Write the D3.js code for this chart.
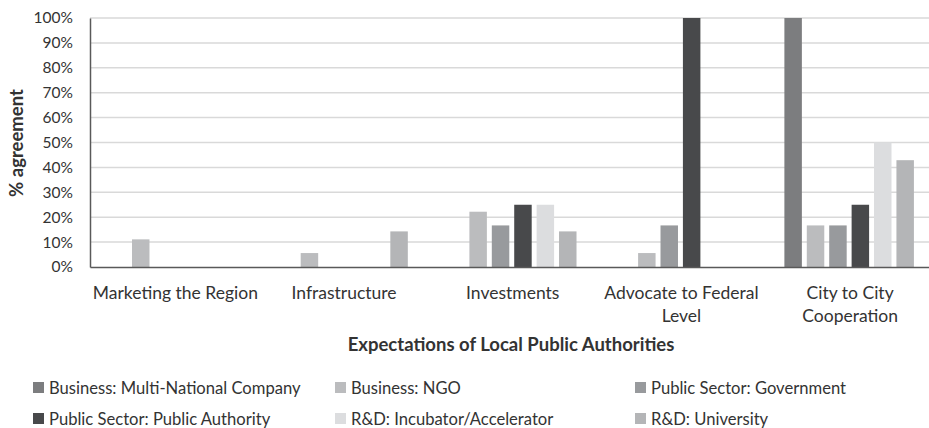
<!DOCTYPE html>
<html><head><meta charset="utf-8">
<script src="https://cdn.jsdelivr.net/npm/d3@7"></script>
<style>
html,body{margin:0;padding:0;background:#fff;}
svg{display:block;font-family:Lato,"Open Sans",sans-serif;}
</style></head>
<body>
<svg id="chart" width="929" height="428"></svg>
<script>
const categories = ["Marketing the Region","Infrastructure","Investments","Advocate to Federal Level","City to City Cooperation"];
const seriesNames = ["Business: Multi-National Company","Business: NGO","Public Sector: Government","Public Sector: Public Authority","R&D: Incubator/Accelerator","R&D: University"];
const seriesColors = ["#7c7d7f","#bbbcbe","#989a9d","#48494b","#dcdddf","#b4b5b7"];
const mnc        = [0, 0, 0, 0, 1.0];
const ngo        = [0.111, 0.056, 0.222, 0.056, 0.167];
const government = [0, 0, 0.167, 0.167, 0.167];
const authority  = [0, 0, 0.25, 1.0, 0.25];
const incubator  = [0, 0, 0.25, 0, 0.5];
const university = [0, 0.143, 0.143, 0, 0.429];
const seriesValues = [mnc, ngo, government, authority, incubator, university];
const yTicks = [0,0.1,0.2,0.3,0.4,0.5,0.6,0.7,0.8,0.9,1.0];
const yTitle = "% agreement";
const xTitle = "Expectations of Local Public Authorities";

const svg = d3.select("#chart");
const m = {left:90, top:18, right:929+4.5, bottom:267};
const textColor = "#333333";

const x0 = d3.scaleBand().domain(categories).range([m.left, m.right]).paddingInner(0).paddingOuter(0);
const groupW = x0.bandwidth()*0.797;
const x1 = d3.scaleBand().domain(seriesNames).range([-groupW/2, groupW/2]).paddingInner(0.22).paddingOuter(0.11);
const y = d3.scaleLinear().domain([0,1]).range([m.bottom, m.top]);

// gridlines
svg.append("g").selectAll("line").data(yTicks.filter(d=>d>0)).join("line")
  .attr("x1", m.left).attr("x2", 929)
  .attr("y1", d=>y(d)).attr("y2", d=>y(d))
  .attr("stroke", "#d9d9d9").attr("stroke-width", 1.5);

// bars
const data = [];
categories.forEach((c,i)=>seriesNames.forEach((s,j)=>data.push({c, s, v: seriesValues[j][i], color: seriesColors[j]})));
svg.append("g").selectAll("rect").data(data.filter(d=>d.v>0)).join("rect")
  .attr("x", d=>x0(d.c)+x0.bandwidth()/2 + x1(d.s))
  .attr("width", x1.bandwidth())
  .attr("y", d=>y(d.v))
  .attr("height", d=>y(0)-y(d.v))
  .attr("fill", d=>d.color);

// y axis
const yAxis = svg.append("g").attr("transform", `translate(${m.left},0)`)
  .call(d3.axisLeft(y).tickValues(yTicks).tickFormat(d3.format(".0%")).tickSize(0).tickPadding(17));
yAxis.select(".domain").attr("stroke", "#595959").attr("stroke-width", 1.5);
yAxis.selectAll("text").attr("font-size", 15.5).attr("fill", textColor).attr("font-family","Lato");

// x axis
const xAxis = svg.append("g").attr("transform", `translate(0,${m.bottom})`)
  .call(d3.axisBottom(x0).tickSize(0).tickFormat(""));
xAxis.select(".domain").attr("stroke", "#595959").attr("stroke-width", 1.5);

// category labels (wrapped)
const labelG = svg.append("g");
categories.forEach(c=>{
  const cx = x0(c)+x0.bandwidth()/2 + 1;
  const t = labelG.append("text").attr("text-anchor","middle")
    .attr("font-size", 17.5).attr("fill", textColor).attr("x", cx);
  const words = c.split(" ");
  let line = [], lines = [];
  const tmp = t.append("tspan");
  words.forEach(w=>{
    line.push(w);
    tmp.text(line.join(" "));
    if (tmp.node().getComputedTextLength() > x0.bandwidth() && line.length>1){
      line.pop(); lines.push(line.join(" ")); line=[w];
    }
  });
  lines.push(line.join(" "));
  tmp.remove();
  lines.forEach((l,k)=>t.append("tspan").attr("x", cx).attr("y", 299 + k*23).text(l));
});

// axis titles
svg.append("text").attr("x", 511).attr("y", 351).attr("text-anchor","middle")
  .attr("font-size", 18.5).attr("font-weight","bold").attr("fill",textColor).text(xTitle);
svg.append("text").attr("transform","translate(23,143) rotate(-90)").attr("text-anchor","middle")
  .attr("font-size", 18.5).attr("font-weight","bold").attr("fill",textColor).text(yTitle);

// legend
const legX = [33, 335, 635], legY = [382, 413];
const leg = svg.append("g");
seriesNames.forEach((s,j)=>{
  const gx = legX[j%3], gy = legY[Math.floor(j/3)];
  leg.append("rect").attr("x", gx).attr("y", gy).attr("width", 11).attr("height", 11).attr("fill", seriesColors[j]);
  leg.append("text").attr("x", gx+16).attr("y", gy+11.5).attr("font-size", 16.6).attr("fill",textColor).text(s);
});
</script>
</body></html>
